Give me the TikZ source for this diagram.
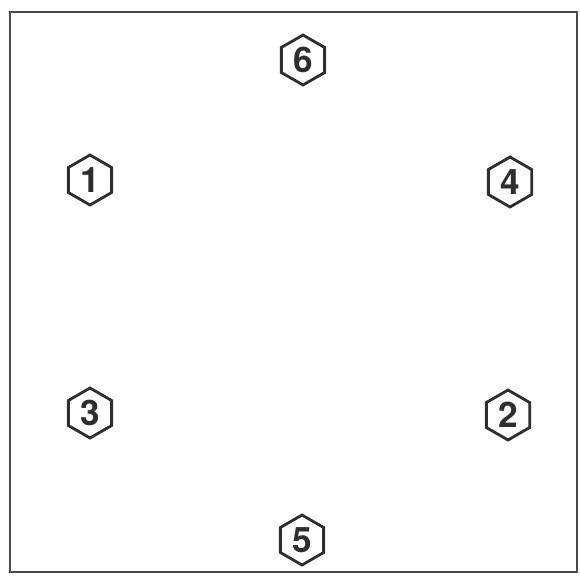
\documentclass[tikz,border=0pt]{standalone}
\usepackage{fontspec}
\setmainfont{TeX Gyre Heros}
\usepackage{tikz}
\usetikzlibrary{
  shapes.geometric
}
\definecolor{plateGray}{HTML}{2E2E2E}
\definecolor{plateEdge}{HTML}{4A4A4A}
\tikzset{
  plateFrame/.style={draw=plateEdge, line width=1.5pt},
  hexMark/.style={
    draw=plateGray,
    line width=1.6pt,
    regular polygon,
    regular polygon sides=6,
    shape border rotate=30,
    minimum size=1.0cm,
    inner sep=0pt,
    font=\fontsize{20}{20}\selectfont\bfseries,
    text=plateGray
  }
}

\begin{document}
\begin{tikzpicture}[x=0.02cm,y=0.02cm]
  \useasboundingbox (0,0) rectangle (580,576);
  \draw[plateFrame] (10,4) rectangle (577,564);
  % numbered hex markers
  \node[hexMark] (m6) at (303,516) {6};
  \node[hexMark] (m1) at (90,396) {1};
  \node[hexMark] (m4) at (510,394) {4};
  \node[hexMark] (m3) at (90,163) {3};
  \node[hexMark] (m2) at (508,161) {2};
  \node[hexMark] (m5) at (302,36) {5};
\end{tikzpicture}
\end{document}
